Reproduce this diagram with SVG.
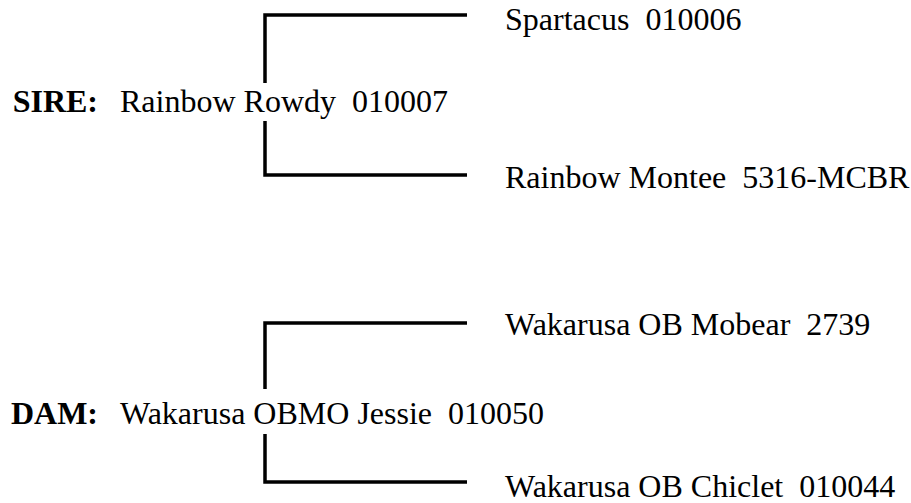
<svg xmlns="http://www.w3.org/2000/svg" width="911" height="503" viewBox="0 0 911 503">
<style>
text{font-family:"Liberation Serif","Times New Roman",serif;font-size:32px;fill:#000}
.lbl{font-weight:bold}
.ln{fill:none;stroke:#000;stroke-width:3.5;stroke-linecap:butt;stroke-linejoin:miter}
</style>
<rect width="911" height="503" fill="#fff"/>
<g id="connectors">
<path class="ln" d="M467,15 H265 V83"/>
<path class="ln" d="M265,121 V175 H467"/>
<path class="ln" d="M467,323 H265 V389"/>
<path class="ln" d="M265,434 V482 H467"/>
</g>
<g id="sire">
<text x="98" y="112" text-anchor="end" class="lbl">SIRE:</text>
<text x="120" y="112" xml:space="preserve">Rainbow Rowdy  010007</text>
</g>
<g id="sire-sire"><text x="505" y="30" xml:space="preserve">Spartacus  010006</text></g>
<g id="sire-dam"><text x="505" y="188" xml:space="preserve">Rainbow Montee  5316-MCBR</text></g>
<g id="dam">
<text x="98" y="424" text-anchor="end" class="lbl">DAM:</text>
<text x="120" y="424" xml:space="preserve">Wakarusa OBMO Jessie  010050</text>
</g>
<g id="dam-sire"><text x="505" y="335" xml:space="preserve">Wakarusa OB Mobear  2739</text></g>
<g id="dam-dam"><text x="505" y="497" xml:space="preserve">Wakarusa OB Chiclet  010044</text></g>
</svg>
